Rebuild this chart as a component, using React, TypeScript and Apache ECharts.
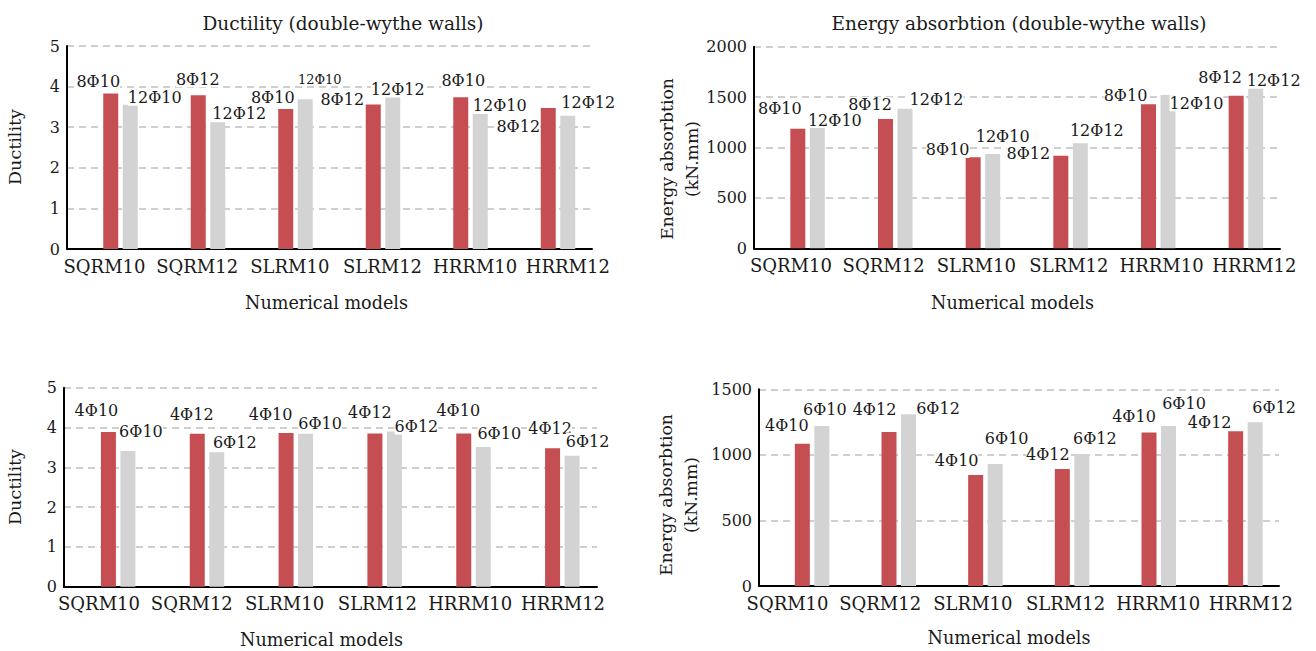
import React, { useEffect, useRef } from "react";
import * as echarts from "echarts";

const categories = ["SQRM10", "SQRM12", "SLRM10", "SLRM12", "HRRM10", "HRRM12"];

// Top-left: Ductility (double-wythe walls)
const ductDoubleRed = [3.83, 3.79, 3.45, 3.56, 3.74, 3.47];
const ductDoubleGray = [3.55, 3.12, 3.69, 3.77, 3.33, 3.28];
// Top-right: Energy absorbtion (double-wythe walls)
const energyDoubleRed = [1187, 1283, 903, 919, 1428, 1514];
const energyDoubleGray = [1196, 1385, 935, 1042, 1521, 1583];
// Bottom-left: Ductility
const ductSingleRed = [3.89, 3.84, 3.86, 3.85, 3.85, 3.48];
const ductSingleGray = [3.41, 3.38, 3.84, 3.9, 3.51, 3.29];
// Bottom-right: Energy absorbtion
const energySingleRed = [1085, 1175, 847, 892, 1170, 1180];
const energySingleGray = [1220, 1310, 931, 1007, 1220, 1249];

const doubleRedTexts = ["8Φ10", "8Φ12", "8Φ10", "8Φ12", "8Φ10", "8Φ12"];
const doubleGrayTexts = ["12Φ10", "12Φ12", "12Φ10", "12Φ12", "12Φ10", "12Φ12"];
const singleRedTexts = ["4Φ10", "4Φ12", "4Φ10", "4Φ12", "4Φ10", "4Φ12"];
const singleGrayTexts = ["6Φ10", "6Φ12", "6Φ10", "6Φ12", "6Φ10", "6Φ12"];

const ductTicksMax = 5;
const energyDoubleMax = 2000;
const energySingleMax = 1500;

// label placement (offset of label centre from bar top centre)
const p1RedOff = [[-12.5, -11.7], [-0.5, -16], [-13, -11], [-31, -5], [2.5, -16.5], [-30, 18]];
const p1GrayOff = [[24.5, -7], [21.5, -9], [14.5, -20], [5, -6.5], [19.5, -8], [20.5, -13.7]];
const p2RedOff = [[-18, -20.4], [-15.5, -14], [-25.5, -7.3], [-32.5, -2.4], [-23, -8.6], [-16, -18.4]];
const p2GrayOff = [[17.5, -7.7], [31.5, -8.7], [10, -18], [16.5, -12.3], [28.5, 8.3], [18, -8.7]];
const p3RedOff = [[-12, -21], [-5.5, -19], [-15.5, -19], [-5, -20.6], [-5.5, -23], [-2.5, -20]];
const p3GrayOff = [[13, -19], [18, -10], [14.5, -10], [22, -5], [16, -13.7], [15.5, -14.7]];
const p4RedOff = [[-15.5, -18], [-14.5, -22], [-19, -14.3], [-14.5, -14.7], [-15, -16], [-26, -8.6]];
const p4GrayOff = [[3, -16.7], [29.5, -6], [11.5, -25], [13, -15.7], [15.5, -22.7], [19, -14.6]];
const p1GraySizes = [16, 16, 13, 16, 16, 16];

const FONT = "'DejaVu Serif', serif";
const RED = "#C44E52";
const GRAY = "#D3D3D3";
const INK = "#1a1a1a";

const panels = [
  { grid: { left: 67, top: 46, width: 525, height: 203 }, lab: { left: 58.15, width: 556 },
    max: ductTicksMax, interval: 1, red: ductDoubleRed, gray: ductDoubleGray,
    redT: doubleRedTexts, grayT: doubleGrayTexts, redO: p1RedOff, grayO: p1GrayOff, graySz: p1GraySizes },
  { grid: { left: 754, top: 46.7, width: 526, height: 201.6 }, lab: { left: 744.6, width: 556 },
    max: energyDoubleMax, interval: 500, red: energyDoubleRed, gray: energyDoubleGray,
    redT: doubleRedTexts, grayT: doubleGrayTexts, redO: p2RedOff, grayO: p2GrayOff, graySz: null },
  { grid: { left: 64, top: 387.7, width: 533, height: 199 }, lab: { left: 52.6, width: 556.8 },
    max: ductTicksMax, interval: 1, red: ductSingleRed, gray: ductSingleGray,
    redT: singleRedTexts, grayT: singleGrayTexts, redO: p3RedOff, grayO: p3GrayOff, graySz: null },
  { grid: { left: 759, top: 389.3, width: 520, height: 196.7 }, lab: { left: 741.2, width: 556 },
    max: energySingleMax, interval: 500, red: energySingleRed, gray: energySingleGray,
    redT: singleRedTexts, grayT: singleGrayTexts, redO: p4RedOff, grayO: p4GrayOff, graySz: null },
];

function buildOption() {
  const grids: any[] = [];
  const xAxes: any[] = [];
  const yAxes: any[] = [];
  const series: any[] = [];
  panels.forEach((p, i) => {
    grids.push({ ...p.grid, containLabel: false });
    xAxes.push({
      type: "category", gridIndex: i, data: categories,
      axisLine: { show: true, lineStyle: { color: "#000", width: 2 } },
      axisTick: { show: false }, axisLabel: { show: false }, splitLine: { show: false },
    });
    yAxes.push({
      type: "value", gridIndex: i, min: 0, max: p.max, interval: p.interval,
      axisLine: { show: true, lineStyle: { color: "#000", width: 2 } },
      axisTick: { show: false },
      axisLabel: {
        fontFamily: FONT, fontSize: 16, lineHeight: 13, color: INK, margin: 7,
        formatter: (v: number) => String(v),
      },
      splitLine: { show: true, lineStyle: { color: "#cfcfcf", width: 2, type: [7, 5] } },
    });
    const common = { type: "bar", xAxisIndex: i, yAxisIndex: i, barWidth: 15, barGap: "30%" };
    series.push({ ...common, silent: true, data: categories.map(() => 0), itemStyle: { color: "transparent" } });
    const mk = (vals: number[], texts: string[], offs: number[][], color: string, sizes: number[] | null) => ({
      ...common,
      itemStyle: { color },
      label: {
        show: true, position: "top", distance: 0, align: "center", verticalAlign: "middle",
        fontFamily: FONT, fontSize: 16, color: INK, backgroundColor: "#fff",
      },
      data: vals.map((v, k) => ({
        value: v,
        label: { formatter: texts[k], offset: offs[k], fontSize: sizes ? sizes[k] : 16 },
      })),
    });
    series.push(mk(p.red, p.redT, p.redO, RED, null));
    series.push(mk(p.gray, p.grayT, p.grayO, GRAY, p.graySz));
  });
  // label grids for the category tick labels
  panels.forEach((p, i) => {
    const gi = 4 + i;
    grids.push({ left: p.lab.left, width: p.lab.width, top: p.grid.top, height: p.grid.height });
    xAxes.push({
      type: "category", gridIndex: gi, data: categories,
      axisLine: { show: false }, axisTick: { show: false }, splitLine: { show: false },
      axisLabel: { interval: 0, fontFamily: FONT, fontSize: 18, lineHeight: 18, color: INK, margin: 8 },
    });
    yAxes.push({ type: "value", gridIndex: gi, show: false, min: 0, max: 1 });
  });

  const txt = (text: string, x: number, y: number, size: number, extra: any = {}) => ({
    type: "text", x, y, ...extra,
    style: { text, fontFamily: FONT, fontSize: size, fill: INK, align: "center", verticalAlign: "middle", ...(extra.style || {}) },
  });
  const rot = Math.PI / 2;
  const graphic = [
    txt("Ductility (double-wythe walls)", 343, 23, 18.5),
    txt("Energy absorbtion (double-wythe walls)", 1019, 23, 18.5),
    txt("Numerical models", 326.5, 303, 17.6),
    txt("Numerical models", 1012.5, 303, 17.6),
    txt("Numerical models", 321.5, 640, 17.6),
    txt("Numerical models", 1009, 638, 17.6),
    txt("Ductility", 15, 147, 17.5, { rotation: rot }),
    txt("Ductility", 15, 487, 17.5, { rotation: rot }),
    txt("Energy absorbtion\n(kN.mm)", 679.5, 159, 17.2, { rotation: rot, style: { lineHeight: 25 } }),
    txt("Energy absorbtion\n(kN.mm)", 678.5, 495, 17.2, { rotation: rot, style: { lineHeight: 25 } }),
  ];

  return {
    animation: false,
    backgroundColor: "#fff",
    grid: grids, xAxis: xAxes, yAxis: yAxes, series, graphic,
  };
}

export default function App() {
  const ref = useRef<HTMLDivElement>(null);
  useEffect(() => {
    if (!ref.current) return;
    const chart = echarts.init(ref.current, undefined, { renderer: "svg" });
    chart.setOption(buildOption() as any);
    return () => chart.dispose();
  }, []);
  return <div ref={ref} style={{ position: "fixed", left: 0, top: 0, width: 1316, height: 651 }} />;
}
